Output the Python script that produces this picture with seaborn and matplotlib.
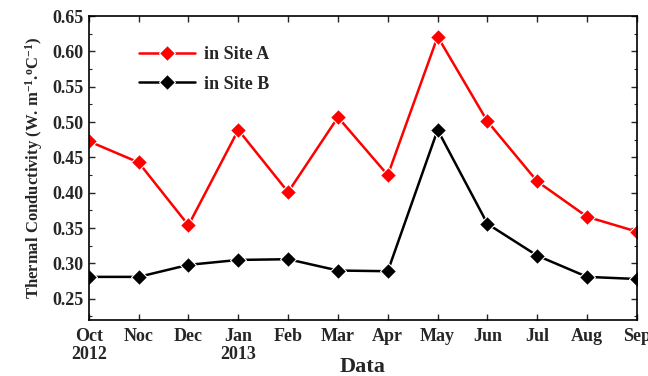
import matplotlib
matplotlib.use("Agg")
import matplotlib.pyplot as plt
from matplotlib.ticker import MultipleLocator
import seaborn as sns
import pandas as pd

months = ["Oct\n2012", "Noc", "Dec", "Jan\n2013", "Feb", "Mar", "Apr",
          "May", "Jun", "Jul", "Aug", "Sep"]
site_a = [0.473, 0.443, 0.354, 0.489, 0.401, 0.507, 0.425,
          0.621, 0.501, 0.416, 0.366, 0.345]
site_b = [0.281, 0.281, 0.298, 0.305, 0.306, 0.290, 0.289,
          0.489, 0.356, 0.311, 0.281, 0.278]
series_names = ["in Site A", "in Site B"]

n = len(months)
df = pd.DataFrame({
    "idx": list(range(n)) * 2,
    "val": site_a + site_b,
    "site": [series_names[0]] * n + [series_names[1]] * n,
})

sns.set_style("ticks")
plt.rcParams["font.family"] = ["Liberation Serif", "DejaVu Serif"]
plt.rcParams["font.weight"] = "bold"
plt.rcParams["mathtext.fontset"] = "custom"
plt.rcParams["mathtext.rm"] = "Liberation Serif:bold"
plt.rcParams["mathtext.it"] = "Liberation Serif:bold"
plt.rcParams["mathtext.bf"] = "Liberation Serif:bold"

fig = plt.figure(figsize=(6.48, 3.76), dpi=100)
ax = fig.add_axes([0.137, 0.149, 0.846, 0.808])

sns.lineplot(data=df, x="idx", y="val", hue="site", style="site",
             palette={series_names[0]: "#ff0000", series_names[1]: "#000000"},
             markers={series_names[0]: "D", series_names[1]: "D"},
             dashes=False, markersize=8.5, linewidth=1.8,
             markeredgewidth=0.8, ax=ax)

ax.set_xlim(0, n - 1)
ax.set_ylim(0.22, 0.65)
ax.set_xticks(range(n))
ax.set_xticklabels(months, fontsize=13, fontweight="bold", linespacing=1.05)
ax.yaxis.set_major_locator(MultipleLocator(0.05))
ax.yaxis.set_minor_locator(MultipleLocator(0.025))
ax.yaxis.set_major_formatter(matplotlib.ticker.FormatStrFormatter("%.2f"))
for lbl in ax.get_yticklabels():
    lbl.set_fontsize(13)
    lbl.set_fontweight("bold")
ax.tick_params(axis="both", which="both", direction="in", top=True, right=True)
ax.tick_params(axis="both", which="major", length=4, width=1, pad=4)
ax.tick_params(axis="x", which="major", pad=6)
ax.tick_params(axis="y", which="minor", length=2.5, width=0.8)
for s in ax.spines.values():
    s.set_linewidth(1.2)
    s.set_color("black")

ax.set_xlabel("Data", fontsize=16, fontweight="bold", labelpad=-4)
ax.set_ylabel("Thermal Conductivity (W. m$^{-1}$.$^{o}$C$^{-1}$)",
              fontsize=12, fontweight="bold", labelpad=5)

leg = ax.legend(loc="upper left", bbox_to_anchor=(0.062, 0.955), frameon=False,
                prop={"weight": "bold", "size": 13}, handlelength=3.1,
                handletextpad=0.5, labelspacing=0.7)

fig.savefig("out.png", dpi=100)
